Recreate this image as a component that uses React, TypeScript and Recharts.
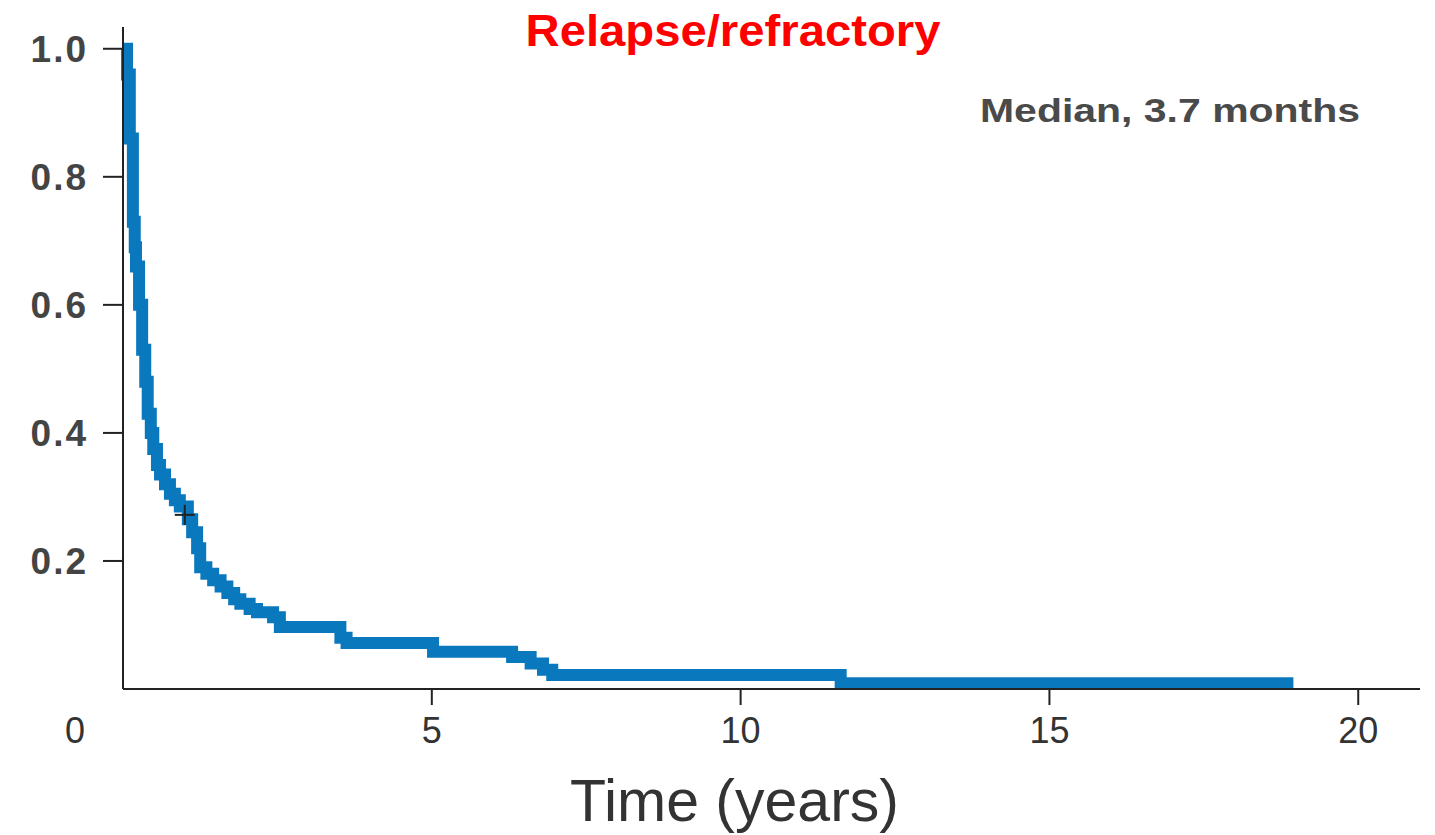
import { Line, LineChart, ReferenceDot, XAxis, YAxis } from "recharts";

// Kaplan-Meier estimate (years, survival level after each drop)
const times = [
  0, 0.065, 0.11, 0.16, 0.19, 0.21, 0.26, 0.31, 0.36, 0.4, 0.45, 0.49, 0.55, 0.6, 0.68,
  0.76, 0.84, 0.92, 1.05, 1.12, 1.2, 1.25, 1.35, 1.46, 1.58, 1.69, 1.8, 1.9, 2.05, 2.17,
  2.43, 2.54, 3.52, 3.62, 5.02, 6.3, 6.6, 6.8, 6.95, 11.62, 18.95,
];
const survival = [
  1.0, 0.96, 0.86, 0.73, 0.69, 0.66, 0.6, 0.53, 0.48, 0.43, 0.4, 0.375, 0.35, 0.335, 0.32,
  0.305, 0.295, 0.285, 0.265, 0.245, 0.22, 0.19, 0.18, 0.17, 0.16, 0.15, 0.14, 0.133, 0.125, 0.12,
  0.112, 0.097, 0.08, 0.072, 0.058, 0.05, 0.04, 0.03, 0.022, 0.009, 0.009,
];
const censorTime = [1.0];
const censorSurv = [0.272];

const xTicks = [0, 5, 10, 15, 20];
const yTicks = [0.2, 0.4, 0.6, 0.8, 1.0];

const data = times.map((t, i) => ({ t, s: survival[i] }));

const font = '"Liberation Sans", Arial, sans-serif';

function XTick(props: any) {
  const { x, y, payload } = props;
  const v = payload.value;
  if (v === 0) {
    return (
      <text x={x - 48} y={y + 54} textAnchor="middle" fontFamily={font} fontSize={36} fill="#333">
        0
      </text>
    );
  }
  return (
    <g>
      <line x1={x} y1={y} x2={x} y2={y + 16} stroke="#222" strokeWidth={2} />
      <text x={x} y={y + 54} textAnchor="middle" fontFamily={font} fontSize={36} fill="#333">
        {v}
      </text>
    </g>
  );
}

function YTick(props: any) {
  const { x, y, payload } = props;
  return (
    <g>
      <line x1={x - 20} y1={y} x2={x} y2={y} stroke="#222" strokeWidth={2} />
      <text
        x={x - 35}
        y={y + 13}
        textAnchor="end"
        fontFamily={font}
        fontWeight={700}
        fontSize={37}
        letterSpacing={2}
        fill="#444"
      >
        {payload.value.toFixed(1)}
      </text>
    </g>
  );
}

function Plus(props: any) {
  const { cx, cy } = props;
  return (
    <g stroke="#222" strokeWidth={2}>
      <line x1={cx - 10} y1={cy} x2={cx + 10} y2={cy} />
      <line x1={cx} y1={cy - 10} x2={cx} y2={cy + 10} />
    </g>
  );
}

export default function App() {
  return (
    <div style={{ position: "relative", width: 1435, height: 835, background: "#fff" }}>
      <style>{`body{margin:0}`}</style>
      <LineChart
        width={1435}
        height={835}
        data={data}
        margin={{ top: 27, right: 15, bottom: 0, left: 0 }}
      >
        <XAxis
          dataKey="t"
          type="number"
          domain={[0, 21]}
          ticks={xTicks}
          tick={<XTick />}
          tickLine={false}
          tickSize={0}
          tickMargin={0}
          height={146}
          axisLine={{ stroke: "#222", strokeWidth: 2 }}
          label={{
            value: "Time (years)",
            position: "insideBottom",
            offset: 14,
            dx: -37,
            fontFamily: font,
            fontSize: 59,
            fill: "#333",
          }}
        />
        <YAxis
          type="number"
          domain={[0, 1.034]}
          ticks={yTicks}
          tick={<YTick />}
          tickLine={false}
          tickSize={0}
          tickMargin={0}
          width={123}
          axisLine={{ stroke: "#222", strokeWidth: 2 }}
        />
        <Line
          type="stepAfter"
          dataKey="s"
          stroke="#0a78bd"
          strokeWidth={12}
          dot={false}
          isAnimationActive={false}
        />
        {censorTime.map((t, i) => (
          <ReferenceDot key={t} x={t} y={censorSurv[i]} shape={<Plus />} />
        ))}
      </LineChart>
      <svg
        width={1435}
        height={835}
        style={{ position: "absolute", left: 0, top: 0, pointerEvents: "none" }}
      >
        <text
          x={733}
          y={46}
          textAnchor="middle"
          fontFamily={font}
          fontWeight={700}
          fontSize={45}
          fill="#ff0000"
          textLength={415}
          lengthAdjust="spacingAndGlyphs"
        >
          Relapse/refractory
        </text>
        <text
          x={980}
          y={122}
          fontFamily={font}
          fontWeight={700}
          fontSize={33}
          fill="#4a4a4a"
          textLength={380}
          lengthAdjust="spacingAndGlyphs"
        >
          Median, 3.7 months
        </text>
      </svg>
    </div>
  );
}
